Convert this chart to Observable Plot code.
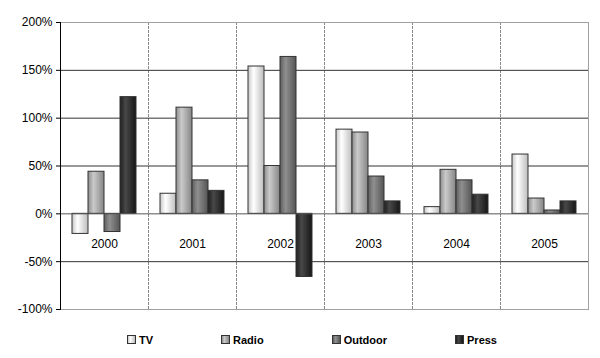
<!DOCTYPE html>
<html>
<head>
<meta charset="utf-8">
<script src="https://cdn.jsdelivr.net/npm/d3@7"></script>
<script src="https://cdn.jsdelivr.net/npm/@observablehq/plot@0.6"></script>
<style>
  body { margin: 0; background: #fff; }
  #chart { width: 600px; height: 358px; overflow: hidden; font-family: "Liberation Sans", Arial, sans-serif; }
  #legend { display: flex; justify-content: center; gap: 68px; padding-left: 24px; height: 29px; align-items: center; font: bold 11px "Liberation Sans", Arial, sans-serif; color: #000; box-sizing: border-box; }
  #legend .item { display: flex; align-items: center; gap: 3px; }
  #legend .sw { width: 7px; height: 7px; border: 1px solid #333; display: inline-block; }
</style>
</head>
<body>
<div id="chart"></div>
<script>
const years = ["2000", "2001", "2002", "2003", "2004", "2005"];
const series = ["TV", "Radio", "Outdoor", "Press"];
const tv      = [-21, 21, 154, 88, 7, 62];
const radio   = [44, 111, 50, 85, 46, 16];
const outdoor = [-19, 35, 164, 39, 35, 3.5];
const press   = [122, 24, -66, 13, 20, 13];
const yTicks = [-100, -50, 0, 50, 100, 150, 200];

const values = {TV: tv, Radio: radio, Outdoor: outdoor, Press: press};
const gradIds = {TV: "gTV", Radio: "gRadio", Outdoor: "gOutdoor", Press: "gPress"};
const gradStops = {
  TV:      ["#c8c8c8", "#ffffff", "#bdbdbd"],
  Radio:   ["#8e8e8e", "#cacaca", "#858585"],
  Outdoor: ["#5e5e5e", "#8f8f8f", "#555555"],
  Press:   ["#1e1e1e", "#484848", "#161616"]
};
const table = [];
years.forEach((y, i) => series.forEach(s => table.push({year: y, series: s, value: values[s][i]})));

const barMarks = series.map(s => Plot.barY(table.filter(d => d.series === s), {
  fx: "year", x: "series", y: "value",
  fill: `url(#${gradIds[s]})`, stroke: "#333", strokeWidth: 1
}));

const svg = Plot.plot({
  width: 600, height: 325,
  marginLeft: 58, marginRight: 10, marginTop: 22, marginBottom: 16,
  style: {fontFamily: "'Liberation Sans', Arial, sans-serif", fontSize: "12px", color: "#000", background: "#fff", overflow: "visible"},
  fx: {domain: years, padding: 0, label: null},
  x: {domain: series, paddingInner: 0, paddingOuter: 0.75, axis: null},
  y: {domain: [-100, 200], label: null},
  marks: [
    Plot.frame({anchor: "left", stroke: "#888", strokeDasharray: "2,2"}),
    Plot.gridY(yTicks.filter(t => t !== 200 && t !== -100 && t !== 0), {stroke: "#333", strokeOpacity: 1}),
    Plot.ruleY([200, -100], {stroke: "#a0a0a0"}),
    Plot.frame({anchor: "right", facetAnchor: "right", stroke: "#a0a0a0"}),
    ...barMarks,
    Plot.ruleY([0], {stroke: "#555"}),
    Plot.frame({anchor: "left", facetAnchor: "left", stroke: "#000"}),
    Plot.axisY({ticks: yTicks, tickFormat: d => d + "%", tickSize: 4, tickPadding: 4, fontSize: 12, stroke: "#000"}),
    Plot.axisFx({anchor: "bottom", tickSize: 0, label: null, dy: -79, fontSize: 12})
  ]
});

const defs = d3.select(svg).insert("defs", ":first-child");
series.forEach(s => {
  const g = defs.append("linearGradient").attr("id", gradIds[s]).attr("x1", "0%").attr("x2", "100%").attr("y1", "0%").attr("y2", "0%");
  const st = gradStops[s];
  g.append("stop").attr("offset", "0%").attr("stop-color", st[0]);
  g.append("stop").attr("offset", "35%").attr("stop-color", st[1]);
  g.append("stop").attr("offset", "100%").attr("stop-color", st[2]);
});

const chart = document.getElementById("chart");
chart.appendChild(svg);

const legend = document.createElement("div");
legend.id = "legend";
series.forEach(s => {
  const it = document.createElement("div");
  it.className = "item";
  const sw = document.createElement("span");
  sw.className = "sw";
  const st = gradStops[s];
  sw.style.background = `linear-gradient(to right, ${st[0]}, ${st[1]} 35%, ${st[2]})`;
  const lb = document.createElement("span");
  lb.textContent = s;
  it.appendChild(sw); it.appendChild(lb);
  legend.appendChild(it);
});
chart.appendChild(legend);
</script>
</body>
</html>
